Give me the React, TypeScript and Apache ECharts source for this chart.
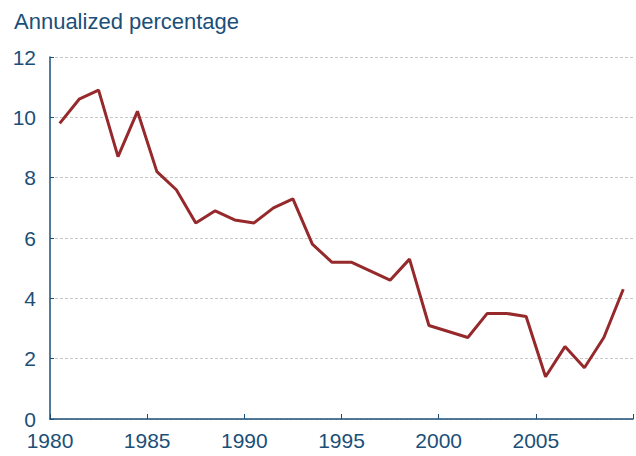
import React, { useEffect, useRef } from "react";
import * as echarts from "echarts";

const years: number[] = [
  1980, 1981, 1982, 1983, 1984, 1985, 1986, 1987, 1988, 1989,
  1990, 1991, 1992, 1993, 1994, 1995, 1996, 1997, 1998, 1999,
  2000, 2001, 2002, 2003, 2004, 2005, 2006, 2007, 2008, 2009,
];
const values: number[] = [
  9.8, 10.6, 10.9, 8.7, 10.2, 8.2, 7.6, 6.5, 6.9, 6.6,
  6.5, 7.0, 7.3, 5.8, 5.2, 5.2, 4.9, 4.6, 5.3, 3.1,
  2.9, 2.7, 3.5, 3.5, 3.4, 1.4, 2.4, 1.7, 2.7, 4.3,
];
const title = "Annualized percentage";

const BLUE = "#1b4f78";
const RED = "#96292b";
const FONT = "Liberation Sans, Arial, sans-serif";

export default function App() {
  const ref = useRef<HTMLDivElement>(null);
  useEffect(() => {
    if (!ref.current) return;
    const chart = echarts.init(ref.current, null, { renderer: "svg" });
    chart.setOption({
      animation: false,
      title: {
        text: title,
        left: 9,
        top: 5,
        textStyle: {
          color: BLUE,
          fontSize: 22,
          fontWeight: "normal",
          fontFamily: FONT,
        },
      },
      grid: { left: 50, width: 589, top: 57, bottom: 37, containLabel: false },
      xAxis: {
        type: "value",
        min: 1980,
        max: 2010,
        interval: 5,
        axisLine: { show: true, lineStyle: { color: BLUE, width: 1.5 } },
        axisTick: { show: true, inside: true, length: 5, lineStyle: { color: BLUE } },
        splitLine: { show: false },
        axisLabel: {
          color: BLUE,
          fontSize: 21,
          margin: 11,
          fontFamily: FONT,
          formatter: (v: number) => (v >= 2010 ? "" : String(v)),
        },
      },
      yAxis: {
        type: "value",
        min: 0,
        max: 12,
        interval: 2,
        axisLine: { show: true, lineStyle: { color: BLUE, width: 1.5 } },
        axisTick: { show: true, inside: true, length: 4, lineStyle: { color: BLUE } },
        splitLine: { show: true, lineStyle: { color: "#c8c8c8", type: [3, 2], width: 1 } },
        axisLabel: {
          color: BLUE,
          fontSize: 21,
          margin: 14,
          fontFamily: FONT,
        },
      },
      series: [
        {
          type: "line",
          data: years.map((y, i) => [y + 0.5, values[i]]),
          showSymbol: false,
          symbol: "none",
          lineStyle: { color: RED, width: 3 },
        },
      ],
    });
    return () => chart.dispose();
  }, []);
  return <div ref={ref} style={{ width: 636, height: 456, position: "absolute", left: 0, top: 0 }} />;
}
